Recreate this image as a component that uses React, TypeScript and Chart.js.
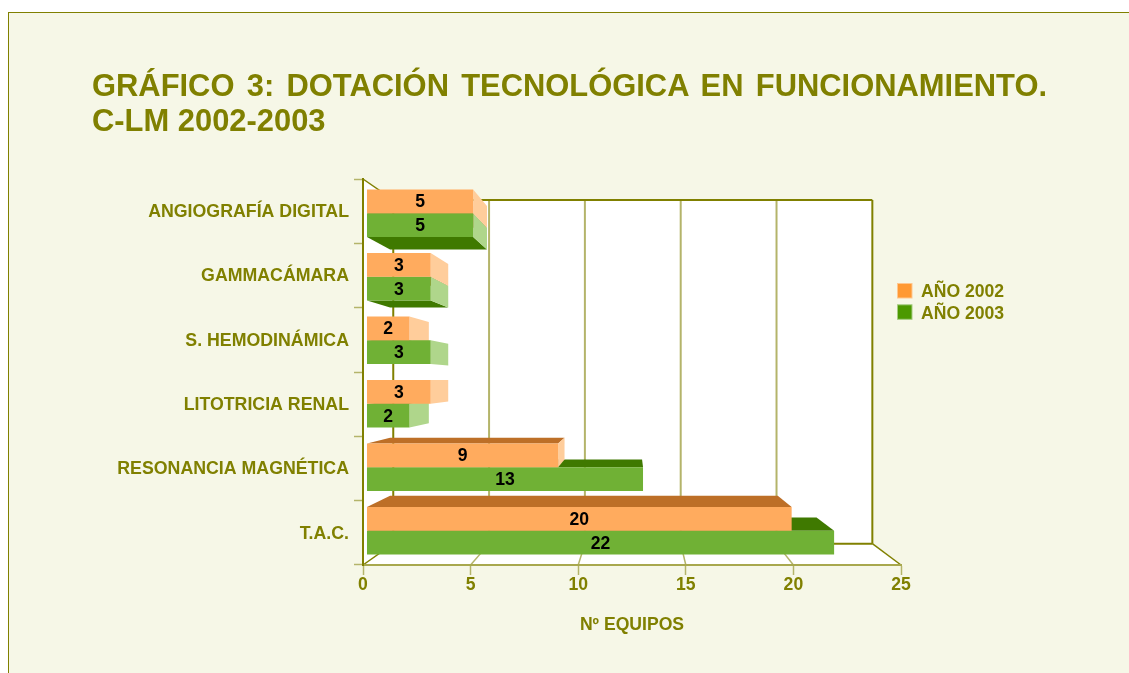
import React, { useEffect, useRef } from "react";
import { Chart, registerables, CategoryScale } from "chart.js";

const categories = ["ANGIOGRAFÍA DIGITAL", "GAMMACÁMARA", "S. HEMODINÁMICA", "LITOTRICIA RENAL", "RESONANCIA MAGNÉTICA", "T.A.C."];
const values2002 = [5, 3, 2, 3, 9, 20];
const values2003 = [5, 3, 3, 2, 13, 22];
const seriesNames = ["AÑO 2002", "AÑO 2003"];
const axisTicks = [0, 5, 10, 15, 20, 25];
const titleLines = ["GRÁFICO 3: DOTACIÓN TECNOLÓGICA EN FUNCIONAMIENTO.", "C-LM 2002-2003"];
const axisTitle = "Nº EQUIPOS";

const OLIVE = "#808000";
const LIGHT_LINE = "#B4B46A";
const FONT = "'Liberation Sans', Arial, sans-serif";
const TEXT_SIZE = 17.6;
const CATEGORY_TEXT_SIZE = 17.75;

// Category axis whose bands sit slightly inside the chart area, as the bars do in the 3D original.
class InsetCategory extends CategoryScale {
  static id = "insetCategory";
  static defaults = CategoryScale.defaults;
  configure() {
    super.configure();
    const inset = (this.options as any).inset || 0;
    (this as any)._startPixel += inset;
    (this as any)._endPixel -= inset;
    (this as any)._length -= 2 * inset;
  }
}
Chart.register(...registerables, InsetCategory);

const wallX = (x: number) => 70 + 0.8905 * x;
const wallY = (y: number) => 40.5 + 0.8905 * y;
const depthX = (x: number) => 55 + 0.913 * x;
const depthY = (y: number) => 33 + 0.913 * y;

const quad = (ctx: CanvasRenderingContext2D, pts: number[][], fill: string) => {
  ctx.beginPath();
  pts.forEach((p, i) => (i ? ctx.lineTo(p[0], p[1]) : ctx.moveTo(p[0], p[1])));
  ctx.closePath();
  ctx.fillStyle = fill;
  ctx.fill();
};
const line = (ctx: CanvasRenderingContext2D, x1: number, y1: number, x2: number, y2: number, color: string, w: number) => {
  ctx.beginPath();
  ctx.moveTo(x1, y1);
  ctx.lineTo(x2, y2);
  ctx.strokeStyle = color;
  ctx.lineWidth = w;
  ctx.stroke();
};

const shadeFaces = (chart: any, ctx: CanvasRenderingContext2D, ds: number) => {
  const d = chart.data.datasets[ds];
  chart.getDatasetMeta(ds).data.forEach((bar: any) => {
    const { x, y, base, height } = bar.getProps(["x", "y", "base", "height"], true);
    const top = y - height / 2, bottom = y + height / 2;
    if (depthY(bottom) - bottom > 2) quad(ctx, [[base, bottom], [x, bottom], [depthX(x), depthY(bottom)], [depthX(base), depthY(bottom)]], d.shadeColor);
    if (top - depthY(top) > 2) quad(ctx, [[base, top], [x, top], [depthX(x), depthY(top)], [depthX(base), depthY(top)]], d.shadeColor);
  });
};
const sideFaces = (chart: any, ctx: CanvasRenderingContext2D, ds: number) => {
  const d = chart.data.datasets[ds];
  chart.getDatasetMeta(ds).data.forEach((bar: any) => {
    const { x, y, height } = bar.getProps(["x", "y", "height"], true);
    const top = y - height / 2, bottom = y + height / 2;
    if (depthX(x) > x) quad(ctx, [[x, top], [depthX(x), depthY(top)], [depthX(x), depthY(bottom)], [x, bottom]], d.sideColor);
  });
};

const wallPlugin = {
  id: "wall",
  beforeDraw(chart: any) {
    const { ctx, chartArea: a, scales } = chart;
    const l = a.left, r = a.right, t = a.top, b = a.bottom;
    ctx.save();
    quad(ctx, [[l, t], [wallX(l), wallY(t)], [wallX(r), wallY(t)], [wallX(r), wallY(b)], [r, b], [l, b]], "#FFFFFF");
    scales.x.ticks.forEach((tick: any, i: number) => {
      const px = scales.x.getPixelForTick(i);
      if (i > 0 && i < axisTicks.length - 1) line(ctx, wallX(px), wallY(t), wallX(px), wallY(b), LIGHT_LINE, 2);
      line(ctx, px, b, wallX(px), wallY(b), i === 0 || i === axisTicks.length - 1 ? OLIVE : LIGHT_LINE, 1.5);
    });
    line(ctx, l, t, wallX(l), wallY(t), OLIVE, 1.5);
    line(ctx, wallX(l), wallY(t), wallX(l), wallY(b), OLIVE, 2);
    line(ctx, wallX(l), wallY(t), wallX(r), wallY(t), OLIVE, 2);
    line(ctx, wallX(r), wallY(t), wallX(r), wallY(b), OLIVE, 2);
    line(ctx, wallX(l), wallY(b), wallX(r), wallY(b), OLIVE, 2);
    ctx.restore();
  },
  beforeDatasetsDraw(chart: any) {
    const { ctx } = chart;
    ctx.save();
    shadeFaces(chart, ctx, 0);
    shadeFaces(chart, ctx, 1);
    sideFaces(chart, ctx, 1);
    sideFaces(chart, ctx, 0);
    ctx.restore();
  },
  afterDatasetsDraw(chart: any) {
    const { ctx } = chart;
    ctx.save();
    ctx.font = `bold ${TEXT_SIZE}px ${FONT}`;
    ctx.fillStyle = "#000000";
    ctx.textAlign = "center";
    ctx.textBaseline = "middle";
    chart.data.datasets.forEach((d: any, ds: number) => {
      chart.getDatasetMeta(ds).data.forEach((bar: any, i: number) => {
        const { x, y, base } = bar.getProps(["x", "y", "base"], true);
        ctx.fillText(String(d.data[i]), (x + base) / 2, y + 1);
      });
    });
    ctx.restore();
  },
  afterDraw(chart: any) {
    const { ctx } = chart;
    ctx.save();
    ctx.font = `bold ${TEXT_SIZE}px ${FONT}`;
    ctx.textBaseline = "middle";
    ctx.textAlign = "left";
    chart.data.datasets.forEach((d: any, i: number) => {
      const top = 283.5 + i * 21.3;
      ctx.fillStyle = d.legendColor;
      ctx.fillRect(897.5, top, 14.5, 14.5);
      ctx.strokeStyle = d.legendEdge;
      ctx.lineWidth = 1;
      ctx.strokeRect(897.5, top, 14.5, 14.5);
      ctx.fillStyle = OLIVE;
      ctx.fillText(d.label, 921, top + 9);
    });
    ctx.restore();
  },
};

export default function App() {
  const ref = useRef<HTMLCanvasElement>(null);
  useEffect(() => {
    const chart = new Chart(ref.current as HTMLCanvasElement, {
      type: "bar",
      plugins: [wallPlugin],
      data: {
        labels: categories,
        datasets: [
          {
            label: seriesNames[0],
            data: values2002,
            backgroundColor: "#FFAB5E",
            shadeColor: "#BD6F27",
            sideColor: "#FFCD9B",
            legendColor: "#FF9933",
            legendEdge: "#FFC78F",
            xAxisID: "xb",
            yAxisID: "yb",
            categoryPercentage: 0.75,
            barPercentage: 1,
          },
          {
            label: seriesNames[1],
            data: values2003,
            backgroundColor: "#70B135",
            shadeColor: "#3F7900",
            sideColor: "#AFD68B",
            legendColor: "#4C9900",
            legendEdge: "#A5CC80",
            xAxisID: "xb",
            yAxisID: "yb",
            categoryPercentage: 0.75,
            barPercentage: 1,
          },
        ] as any,
      },
      options: {
        indexAxis: "y",
        responsive: false,
        animation: false,
        layout: { padding: { top: 179, right: 228, left: 0, bottom: 0 } },
        plugins: { legend: { display: false }, title: { display: false }, tooltip: { enabled: false } },
        scales: {
          x: {
            type: "linear",
            position: "bottom",
            min: axisTicks[0],
            max: axisTicks[axisTicks.length - 1],
            afterFit: (s: any) => { s.height = 108; },
            ticks: { stepSize: 5, color: OLIVE, font: { family: FONT, weight: "bold", size: TEXT_SIZE }, padding: 0, maxRotation: 0 },
            grid: { drawOnChartArea: false, drawTicks: true, tickLength: 10, tickColor: LIGHT_LINE, tickWidth: 1.5 },
            border: { display: true, color: "#A8A84E", width: 2 },
            title: { display: true, text: axisTitle, color: OLIVE, font: { family: FONT, weight: "bold", size: TEXT_SIZE }, padding: { top: 0, bottom: 37 } },
          },
          y: {
            type: "category",
            position: "left",
            afterFit: (s: any) => { s.width = 363; },
            ticks: { color: OLIVE, font: { family: FONT, weight: "bold", size: CATEGORY_TEXT_SIZE }, padding: 5, labelOffset: 1, autoSkip: false, maxRotation: 0 },
            grid: { drawOnChartArea: false, drawTicks: true, tickLength: 9, tickColor: LIGHT_LINE, tickWidth: 1.5, offset: true },
            border: { display: true, color: OLIVE, width: 2 },
          },
          // Hidden scales that place the bars' front faces just inside the axes.
          xb: { type: "linear", axis: "x", position: "bottom", display: false, min: -0.188, max: 25.15 },
          yb: { type: "insetCategory", axis: "y", position: "left", display: false, inset: 2.5, offset: true, grid: { offset: true } },
        } as any,
      } as any,
    });
    return () => chart.destroy();
  }, []);

  return (
    <div style={{ position: "fixed", left: 0, top: 0, width: 1129, height: 673, overflow: "hidden", background: "#FFFFFF" }}>
      <div style={{ position: "absolute", left: 8, top: 12, width: 1200, height: 800, background: "#F6F7E7", borderLeft: `1px solid ${OLIVE}`, borderTop: `1px solid ${OLIVE}` }} />
      <canvas ref={ref} width={1129} height={673} style={{ position: "absolute", left: 0, top: 0, display: "block" }} />
      <div style={{ position: "absolute", left: 92, top: 69, width: 955, font: `bold 30.9px/34.5px ${FONT}`, color: OLIVE }}>
        <div style={{ textAlign: "justify", textAlignLast: "justify" }}>{titleLines[0]}</div>
        <div>{titleLines[1]}</div>
      </div>
    </div>
  );
}
